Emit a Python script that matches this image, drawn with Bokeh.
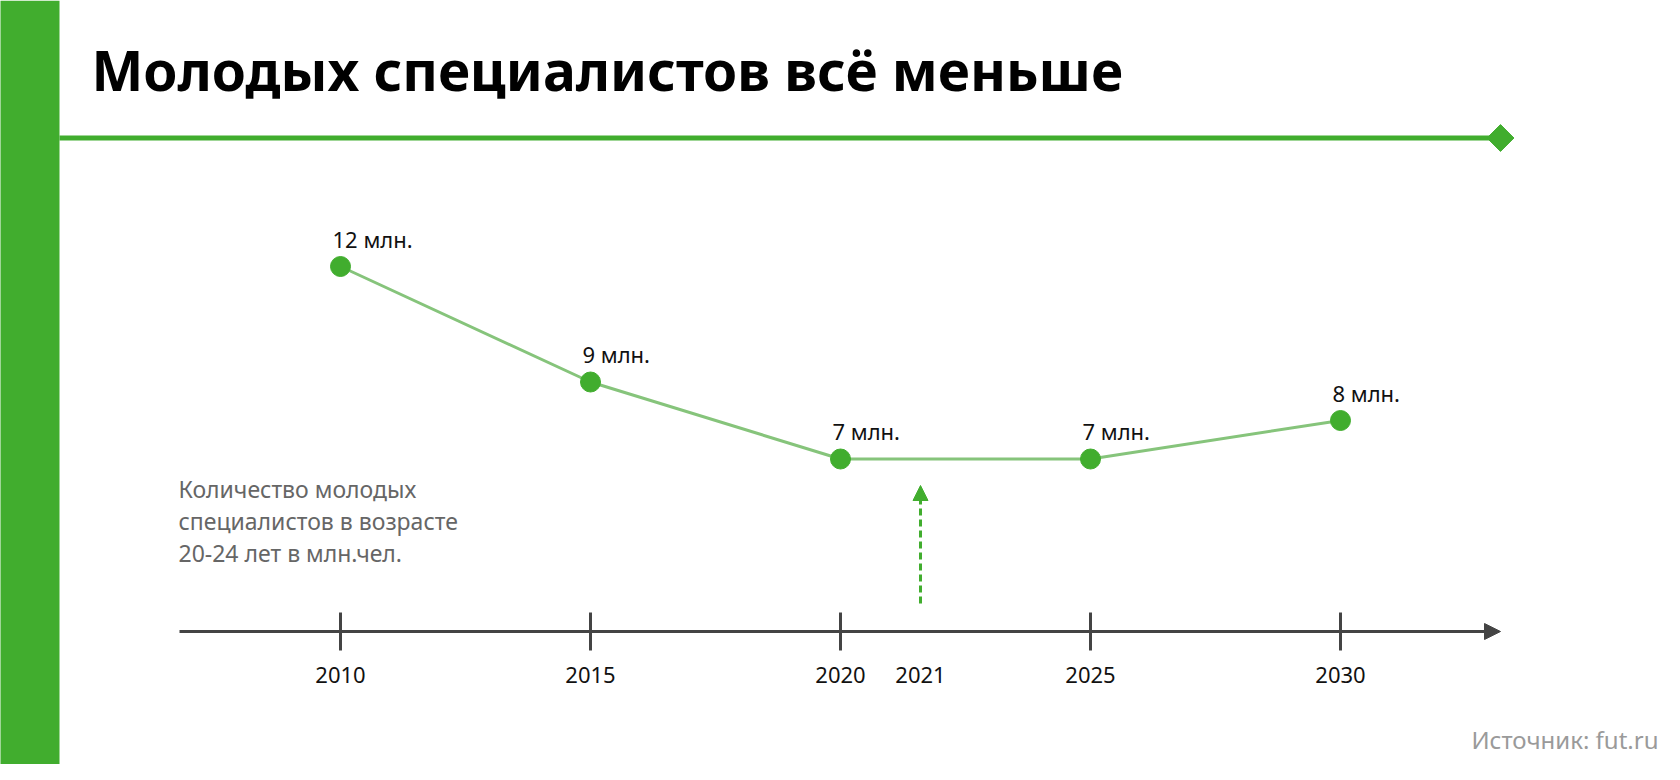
from math import pi
from bokeh.plotting import figure
from bokeh.models import Label, Arrow, NormalHead
from bokeh.core.properties import value
from bokeh.embed import file_html
from bokeh.resources import INLINE

# ---- data ----
years = [2010, 2015, 2020, 2025, 2030]
young_specialists_mln = [12, 9, 7, 7, 8]
value_labels = ["12 млн.", "9 млн.", "7 млн.", "7 млн.", "8 млн."]
tick_years = [2010, 2015, 2020, 2025, 2030]
tick_labels = ["2010", "2015", "2020", "2025", "2030"]
current_year_label = "2021"
title_text = "Молодых специалистов всё меньше"
caption_lines = ["Количество молодых", "специалистов в возрасте", "20-24 лет в млн.чел."]
source_text = "Источник: fut.ru"

# ---- layout ----
W, H = 1664, 764
X0 = 2003.2
X1 = X0 + W / 50.0
Y1 = 12 + 266 / 38.5
Y0 = Y1 - H / 38.5
NOW_POS = 2021.6  # marker of the current moment on the time axis

GREEN = "#41ad2e"
LINE_GREEN = "#86c47b"
AXIS_COL = "#444444"
FONT = "Noto Sans"


def px_x(px):
    return X0 + px * (X1 - X0) / W


def px_y(py):
    return Y1 - py * (Y1 - Y0) / H


p = figure(width=W, height=H, x_range=(X0, X1), y_range=(Y0, Y1),
           output_backend="svg", toolbar_location=None, min_border=0,
           outline_line_color=None, background_fill_color="white",
           border_fill_color="white")
p.axis.visible = False
p.grid.visible = False

# left green bar
p.quad(left=px_x(-10), right=px_x(59), bottom=Y0, top=Y1, color=GREEN, line_color=None)

# header rule with diamond
p.segment(x0=px_x(59), y0=px_y(137.5), x1=px_x(1495), y1=px_y(137.5), line_width=5,
          line_color=GREEN)
p.scatter(x=[px_x(1500)], y=[px_y(137.5)], marker="square", angle=pi / 4, size=19,
          fill_color=GREEN, line_color=GREEN)

# title
p.add_layout(Label(x=px_x(91), y=px_y(69), text=title_text, text_font=FONT,
                   text_font_style="bold", text_font_size="55px", text_color="#000000",
                   text_baseline="alphabetic"))

# time axis
AXIS_Y = px_y(631)
p.add_layout(Arrow(end=NormalHead(size=16, fill_color=AXIS_COL, line_color=AXIS_COL),
                   x_start=px_x(179), y_start=AXIS_Y, x_end=px_x(1500), y_end=AXIS_Y,
                   line_width=3, line_color=AXIS_COL))
p.segment(x0=tick_years, y0=[px_y(612)] * len(tick_years), x1=tick_years,
          y1=[px_y(650)] * len(tick_years), line_width=3, line_color=AXIS_COL)
p.text(x=tick_years, y=[px_y(674)] * len(tick_years), text=tick_labels,
       text_align="center", text_baseline="alphabetic", text_font=value(FONT),
       text_font_size="22px", text_color="#111111")
p.add_layout(Label(x=NOW_POS, y=px_y(674), text=current_year_label, text_align="center",
                   text_baseline="alphabetic", text_font=FONT, text_font_size="22px",
                   text_color="#111111"))

# current-moment dashed arrow
p.add_layout(Arrow(end=NormalHead(size=15, fill_color=GREEN, line_color=GREEN),
                   x_start=NOW_POS, y_start=px_y(603), x_end=NOW_POS, y_end=px_y(485),
                   line_width=3, line_color=GREEN, line_dash="7 4"))

# data line
p.line(years, young_specialists_mln, line_width=3, line_color=LINE_GREEN)
p.scatter(years, young_specialists_mln, size=20, fill_color=GREEN, line_color=GREEN)
p.text(x=years, y=young_specialists_mln, text=value_labels, x_offset=-8, y_offset=-28,
       text_baseline="alphabetic", text_align="left", text_font=value(FONT),
       text_font_size="22px", text_color="#111111")

# caption
for i, line in enumerate(caption_lines):
    p.add_layout(Label(x=px_x(178), y=px_y(488.5 + 32 * i), text=line, text_font=FONT,
                       text_font_size="23px", text_color="#666666",
                       text_baseline="alphabetic"))

# source
p.add_layout(Label(x=px_x(1658), y=px_y(739), text=source_text, text_align="right",
                   text_font=FONT, text_font_size="24px", text_color="#9a9a9a",
                   text_baseline="alphabetic"))

open("out.html", "w").write(file_html(p, INLINE))
